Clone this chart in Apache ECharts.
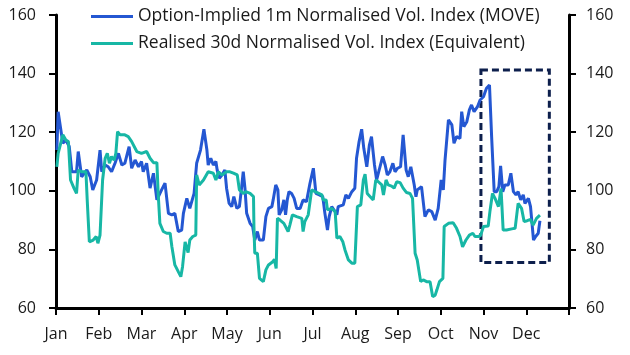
<!DOCTYPE html>
<html>
<head>
<meta charset="utf-8">
<script src="https://cdn.jsdelivr.net/npm/echarts@6/dist/echarts.min.js"></script>
<style>
html,body{margin:0;padding:0;background:#fff;}
#chart{width:630px;height:355px;}
</style>
</head>
<body>
<div id="chart"></div>
<script>
// Month labels (ticks at month starts)
const months = ['Jan','Feb','Mar','Apr','May','Jun','Jul','Aug','Sep','Oct','Nov','Dec'];
const seriesNames = ['Option-Implied 1m Normalised Vol. Index (MOVE)', 'Realised 30d Normalised Vol. Index (Equivalent)'];

// Time positions in months since 1 Jan, and index values
const moveT = [0.02,0.05,0.16,0.23,0.31,0.37,0.48,0.52,0.60,0.72,0.80,0.86,0.95,1.03,1.07,1.15,1.22,1.30,1.38,1.46,1.54,1.61,1.71,1.77,1.85,1.93,2.00,2.04,2.12,2.20,2.28,2.36,2.47,2.55,2.63,2.71,2.78,2.86,2.94,2.98,3.06,3.13,3.23,3.29,3.33,3.38,3.46,3.53,3.56,3.62,3.68,3.74,3.77,3.82,3.88,3.95,3.99,4.05,4.11,4.16,4.23,4.29,4.34,4.38,4.42,4.46,4.54,4.60,4.65,4.71,4.76,4.85,4.91,4.97,5.05,5.08,5.14,5.19,5.22,5.28,5.33,5.37,5.41,5.45,5.51,5.57,5.63,5.71,5.78,5.86,5.94,6.02,6.08,6.16,6.24,6.29,6.35,6.39,6.45,6.50,6.57,6.60,6.72,6.78,6.84,6.92,6.99,7.03,7.09,7.15,7.20,7.27,7.33,7.38,7.45,7.50,7.56,7.64,7.70,7.75,7.81,7.88,7.93,7.99,8.06,8.12,8.19,8.24,8.30,8.38,8.42,8.45,8.55,8.63,8.71,8.79,8.87,8.94,9.01,9.06,9.10,9.18,9.26,9.31,9.37,9.45,9.49,9.54,9.61,9.67,9.72,9.78,9.86,9.92,10.00,10.04,10.07,10.14,10.19,10.25,10.31,10.36,10.40,10.45,10.50,10.58,10.64,10.70,10.76,10.81,10.87,10.93,10.97,11.05,11.10,11.17,11.22,11.28,11.32];
const moveV = [113.9,127.0,116.2,117.3,115.1,106.5,106.5,113.4,104.8,107.1,104.8,100.3,103.7,113.9,106.5,108.8,108.2,106.5,109.4,112.8,108.8,109.4,115.1,107.7,110.5,108.2,110.0,106.5,109.4,100.9,106.0,96.9,100.3,102.6,92.3,91.8,92.3,86.1,86.6,92.3,97.4,94.0,99.1,109.4,108.8,113.9,121.0,113.9,108.8,111.1,108.8,110.0,107.1,104.3,105.4,107.1,100.9,95.7,94.6,98.0,94.0,94.6,100.9,106.5,100.9,92.3,88.9,87.8,83.2,86.1,83.2,83.2,91.2,94.0,94.6,96.9,102.0,100.3,91.8,93.5,96.9,91.8,96.9,99.7,99.1,97.4,94.0,94.0,96.9,96.3,102.5,107.7,99.1,98.6,98.0,92.3,86.6,91.2,94.6,93.5,91.8,94.6,95.2,98.6,97.4,99.7,100.9,111.1,116.8,121.0,114.5,108.2,115.6,118.5,108.8,103.7,107.1,111.7,108.8,105.4,106.5,109.4,106.5,107.7,108.2,119.1,107.1,104.8,108.2,102.0,98.0,100.3,101.4,91.2,93.5,92.9,90.0,94.0,103.7,100.3,110.5,124.2,122.5,116.2,118.5,117.9,127.0,121.9,123.6,127.6,129.3,127.0,128.7,131.0,132.1,133.8,135.0,136.1,118.5,99.7,99.7,101.4,108.5,99.7,102.0,102.0,106.0,99.7,98.6,99.7,96.9,98.6,95.7,97.4,94.6,83.2,84.4,85.5,89.8];

const realT = [0.02,0.05,0.16,0.23,0.29,0.34,0.42,0.48,0.52,0.60,0.70,0.73,0.78,0.87,0.94,0.98,1.03,1.09,1.15,1.20,1.25,1.30,1.36,1.40,1.44,1.50,1.61,1.69,1.77,1.89,2.00,2.12,2.20,2.28,2.36,2.39,2.43,2.51,2.59,2.67,2.71,2.78,2.86,2.92,2.96,3.02,3.06,3.09,3.13,3.20,3.27,3.29,3.35,3.45,3.56,3.68,3.74,3.80,3.88,3.99,4.07,4.15,4.24,4.29,4.38,4.44,4.54,4.62,4.63,4.65,4.71,4.76,4.85,4.91,4.97,5.07,5.11,5.15,5.18,5.24,5.33,5.43,5.47,5.53,5.63,5.75,5.78,5.82,5.90,5.98,6.06,6.10,6.22,6.25,6.32,6.35,6.45,6.53,6.57,6.64,6.71,6.76,6.84,6.92,6.99,7.05,7.13,7.19,7.23,7.28,7.35,7.42,7.48,7.54,7.62,7.66,7.72,7.77,7.85,7.91,7.97,8.05,8.12,8.20,8.28,8.34,8.40,8.45,8.53,8.59,8.67,8.75,8.81,8.87,8.91,8.97,9.05,9.08,9.18,9.29,9.37,9.45,9.51,9.59,9.67,9.75,9.80,9.88,9.93,10.00,10.11,10.15,10.21,10.27,10.35,10.41,10.46,10.54,10.66,10.74,10.81,10.89,10.95,11.02,11.10,11.16,11.24,11.32];
const realV = [108.2,112.8,119.1,117.3,116.8,103.7,100.9,99.1,107.1,106.5,106.5,96.9,82.6,83.2,84.4,82.1,84.9,103.7,111.1,112.8,109.4,111.7,110.5,112.8,120.2,119.1,119.1,118.5,116.8,113.4,112.8,113.4,111.1,109.6,109.6,99.1,88.9,86.1,85.5,85.5,81.0,74.7,72.4,70.7,74.1,82.6,82.1,78.9,83.2,84.4,84.9,105.4,102.0,103.7,106.5,106.0,103.7,106.5,105.4,106.5,106.5,106.0,105.4,100.3,99.1,99.7,99.1,98.0,87.8,78.7,78.7,70.1,69.0,73.0,74.7,75.8,76.6,73.5,90.6,90.0,88.9,86.1,88.3,91.8,91.2,90.6,86.1,89.5,91.8,100.3,99.7,100.3,98.6,96.9,96.9,93.5,94.0,92.9,83.8,84.4,82.6,79.8,76.4,75.3,75.3,94.6,95.2,103.7,105.7,99.1,98.0,96.9,103.7,103.1,102.0,98.6,103.7,102.0,101.6,100.9,103.1,102.8,100.9,99.4,99.1,97.4,78.7,76.4,69.0,69.6,69.0,69.0,63.9,64.4,66.2,69.0,70.1,87.8,88.9,89.1,87.2,84.4,80.9,83.2,84.9,85.5,84.4,84.4,84.7,87.8,88.0,92.9,99.1,97.4,94.6,100.8,86.6,86.6,87.0,87.2,95.7,94.0,89.5,89.8,90.2,88.3,90.6,91.7];

// Highlighted period box (month position, index value)
const boxT = [9.94, 11.54];
const boxV = [141.2, 75.5];

const toPairs = (t, v) => t.map((x, i) => [x, v[i]]);

const chart = echarts.init(document.getElementById('chart'), null, {renderer: 'canvas'});
const FONT = 'Open Sans';
const TXT = '#1a1a1a';
const BLUE = '#2457D2';
const TEAL = '#17B7A5';

const yAxisBase = {
  type: 'value', min: 60, max: 160, interval: 20,
  axisLine: {show: true, lineStyle: {color: '#000', width: 3}},
  axisTick: {show: true, inside: false, length: 7, lineStyle: {color: '#000', width: 2}},
  splitLine: {show: false},
  axisLabel: {color: TXT, fontFamily: FONT, fontSize: 16}
};

chart.setOption({
  animation: false,
  backgroundColor: '#fff',
  grid: {left: 56, right: 61, top: 15, bottom: 47, containLabel: false},
  legend: {
    orient: 'vertical', left: 86, top: 2,
    icon: 'rect',
    itemWidth: 42, itemHeight: 3, itemGap: 8,
    textStyle: {color: TXT, fontFamily: FONT, fontSize: 17.5, lineHeight: 19},
    data: [
      {name: seriesNames[0], itemStyle: {color: BLUE}},
      {name: seriesNames[1], itemStyle: {color: TEAL}}
    ]
  },
  xAxis: {
    type: 'value', min: 0, max: 12, interval: 1,
    axisLine: {show: true, onZero: false, lineStyle: {color: '#000', width: 3}},
    axisTick: {show: true, inside: false, length: 7, lineStyle: {color: '#000', width: 2}},
    splitLine: {show: false},
    axisLabel: {
      color: TXT, fontFamily: FONT, fontSize: 16, margin: 18,
      formatter: v => (v < 12 ? months[Math.round(v)] : '')
    }
  },
  yAxis: [
    Object.assign({}, yAxisBase, {position: 'left', axisLabel: Object.assign({}, yAxisBase.axisLabel, {margin: 20})}),
    Object.assign({}, yAxisBase, {position: 'right', axisLabel: Object.assign({}, yAxisBase.axisLabel, {margin: 17})})
  ],
  series: [
    {
      name: seriesNames[0], type: 'line', yAxisIndex: 0,
      data: toPairs(moveT, moveV),
      symbol: 'none', lineStyle: {color: BLUE, width: 3}, itemStyle: {color: BLUE},
      z: 2
    },
    {
      name: seriesNames[1], type: 'line', yAxisIndex: 0,
      data: toPairs(realT, realV),
      symbol: 'none', lineStyle: {color: TEAL, width: 3}, itemStyle: {color: TEAL},
      z: 3,
      markArea: {
        silent: true,
        itemStyle: {color: 'rgba(0,0,0,0)', borderColor: '#0D1F4C', borderWidth: 3, borderType: [7, 4]},
        data: [[{coord: [boxT[0], boxV[0]]}, {coord: [boxT[1], boxV[1]]}]]
      }
    }
  ]
});
</script>
</body>
</html>
